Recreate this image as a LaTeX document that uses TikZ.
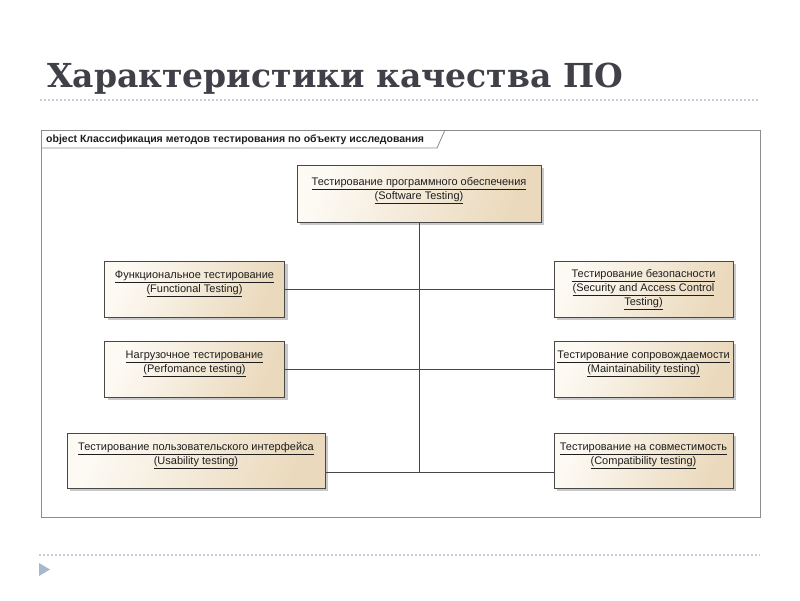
\documentclass[tikz,border=0pt]{standalone}
\usepackage{fontspec}
\setmainfont{Liberation Sans}
\newfontfamily\titlefont{DejaVu Serif}
\usepackage{tikz}
\usetikzlibrary{shadows}
\definecolor{textDark}{RGB}{30,30,30}
\definecolor{titleInk}{RGB}{64,64,72}
\definecolor{ruleBlue}{RGB}{197,205,216}
\definecolor{bulletBlue}{RGB}{165,184,207}
\definecolor{frameGray}{RGB}{140,140,140}
\definecolor{boxEdge}{RGB}{72,72,72}
\definecolor{boxLight}{RGB}{253,250,244}
\definecolor{boxDark}{RGB}{234,217,188}
\definecolor{lineGray}{RGB}{70,70,70}

\tikzset{
  classBox/.style={draw=boxEdge, line width=0.9pt, left color=boxLight,
    right color=boxDark, shading angle=65, inner sep=0pt,
    drop shadow={shadow xshift=3pt, shadow yshift=-3pt, fill=black!30, opacity=0.7}},
  classText/.style={align=center, font=\fontsize{11}{14}\selectfont, inner sep=0pt},
  link/.style={draw=lineGray, line width=0.8pt},
  slideRule/.style={draw=ruleBlue, line width=1.2pt, dash pattern=on 2pt off 2pt}
}

\begin{document}
\begin{tikzpicture}[x=1pt, y=-1pt, every node/.style={text=textDark}]
\useasboundingbox (0,0) rectangle (800,600);

% Header
\node[anchor=base west, inner sep=0pt, text=titleInk,
      font=\titlefont\bfseries\fontsize{33}{40}\selectfont] (title) at (47,87)
    {Характеристики качества ПО};
\draw[slideRule] (40,100) -- (760,100);

% Diagram frame
\draw[frameGray, line width=0.8pt] (41,130) rectangle (760,517);
\draw[frameGray, line width=0.8pt] (41,148) -- (437,148) -- (445,130);
\node[anchor=west, inner sep=0pt, font=\bfseries\fontsize{10.5}{12}\selectfont]
    (frameTag) at (46,139.5)
    {object Классификация методов тестирования по объекту исследования};

% Boxes
\node[classBox, minimum width=244pt, minimum height=57pt] (soft) at (419,193.5) {};
\node[classBox, minimum width=180pt, minimum height=56pt] (func) at (194.5,289) {};
\node[classBox, minimum width=180pt, minimum height=56pt] (perf) at (194.5,369) {};
\node[classBox, minimum width=258pt, minimum height=55pt] (usab) at (196,460.5) {};
\node[classBox, minimum width=179pt, minimum height=56pt] (sec) at (643.5,289) {};
\node[classBox, minimum width=179pt, minimum height=56pt] (maint) at (643.5,369) {};
\node[classBox, minimum width=179pt, minimum height=55pt] (compat) at (643.5,460.5) {};

% Box texts
\node[classText] (softText) at ([yshift=3pt]soft.center)
    {\underline{Тестирование программного обеспечения}\\\underline{(Software Testing)}};
\node[classText] (funcText) at ([yshift=5pt]func.center)
    {\underline{Функциональное тестирование}\\\underline{(Functional Testing)}};
\node[classText] (perfText) at ([yshift=5pt]perf.center)
    {\underline{Нагрузочное тестирование}\\\underline{(Perfomance testing)}};
\node[classText] (usabText) at ([yshift=5pt]usab.center)
    {\underline{Тестирование пользовательского интерфейса}\\\underline{(Usability testing)}};
\node[classText] (secText) at ([yshift=-1pt]sec.center)
    {\underline{Тестирование безопасности}\\\underline{(Security and Access Control}\\\underline{Testing)}};
\node[classText] (maintText) at ([yshift=5pt]maint.center)
    {\underline{Тестирование сопровождаемости}\\\underline{(Maintainability testing)}};
\node[classText] (compatText) at ([yshift=5pt]compat.center)
    {\underline{Тестирование на совместимость}\\\underline{(Compatibility testing)}};

% Connectors
\coordinate (hubLow) at (419,472);
\draw[link] (soft.south) -- (soft.south |- hubLow);
\draw[link] (func.east) -- (sec.west);
\draw[link] (perf.east) -- (maint.west);
\draw[link] (usab.east |- hubLow) -- (compat.west |- hubLow);

% Footer
\draw[slideRule] (39,555) -- (760,555);
\fill[bulletBlue] (39,563) -- (50,569.5) -- (39,576) -- cycle;

\end{tikzpicture}
\end{document}
